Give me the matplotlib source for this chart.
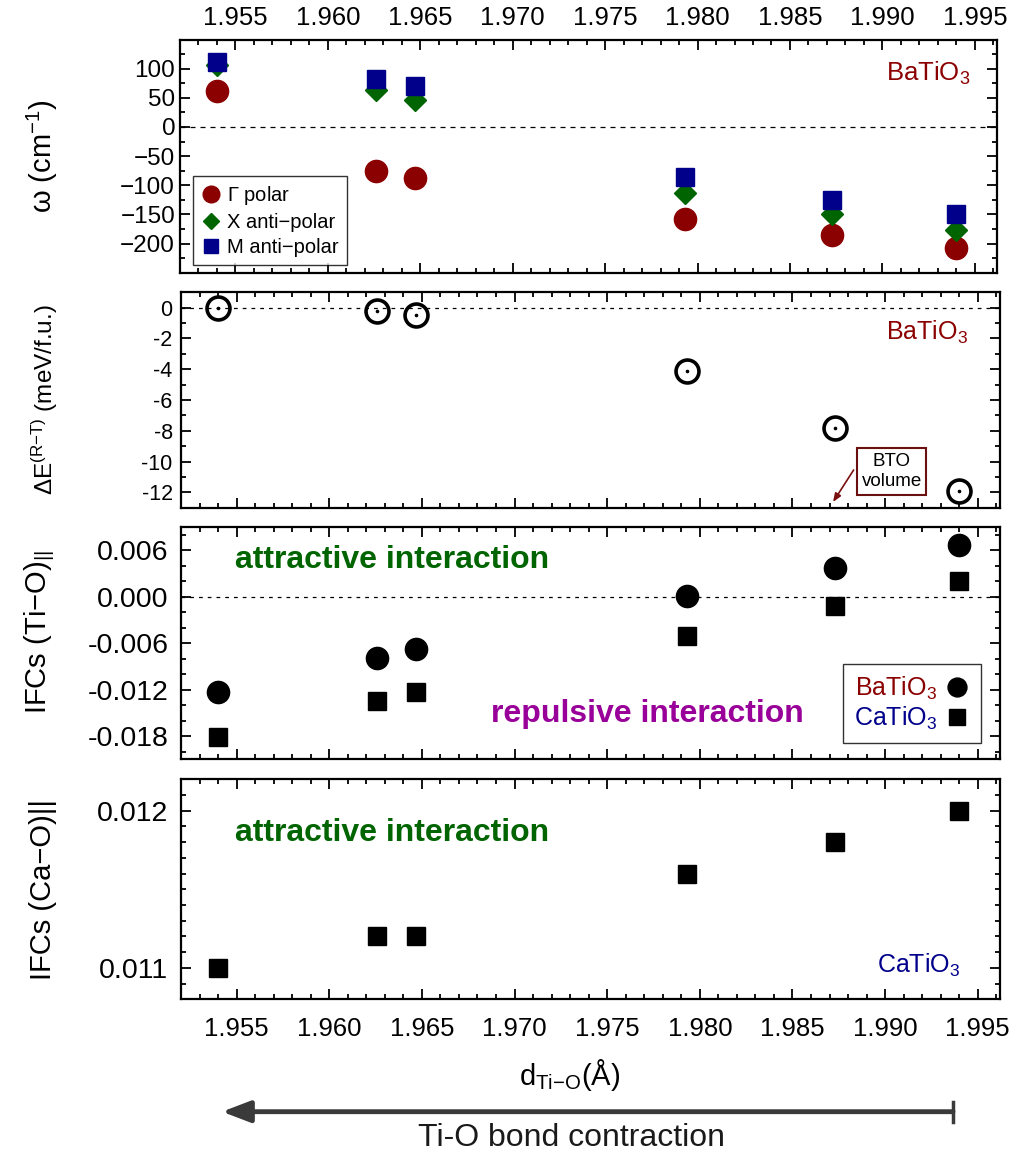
import numpy as np
import matplotlib
matplotlib.use("Agg")
import matplotlib.pyplot as plt
from matplotlib.ticker import MultipleLocator, FormatStrFormatter, FuncFormatter
from matplotlib.lines import Line2D
from matplotlib.patches import FancyArrowPatch

plt.rcParams["font.family"] = ["Liberation Sans", "DejaVu Sans"]
plt.rcParams["mathtext.fontset"] = "custom"
plt.rcParams["mathtext.rm"] = "Liberation Sans"
plt.rcParams["mathtext.it"] = "Liberation Sans:italic"
plt.rcParams["axes.unicode_minus"] = True

# Ti-O bond length (A) for the six strained cells
d_tio = np.array([1.9540, 1.9626, 1.9647, 1.9793, 1.9873, 1.9940])

# BaTiO3 soft-mode frequencies (cm^-1)
w_gamma = np.array([62, -75, -88, -158, -185, -207])
w_x     = np.array([106, 64, 46, -114, -149, -176])
w_m     = np.array([112, 82, 71, -86, -125, -150])

# BaTiO3 energy difference R - T (meV/f.u.)
dE_rt = np.array([0.0, -0.24, -0.48, -4.1, -7.8, -11.9])

# Ti-O longitudinal IFCs
ifc_tio_bto = np.array([-0.0123, -0.0079, -0.0068, 0.0001, 0.0037, 0.0067])
ifc_tio_cto = np.array([-0.0181, -0.0135, -0.0123, -0.0050, -0.0012, 0.0020])

# Ca-O longitudinal IFCs (CaTiO3)
ifc_cao_cto = np.array([0.0110, 0.0112, 0.0112, 0.0116, 0.0118, 0.0120])

RED   = "#8b0000"
GREEN = "#006400"
BLUE  = "#00008b"
PURP  = "#990099"

W, H = 1028, 1152
fig = plt.figure(figsize=(W / 100, H / 100), dpi=100)


def rect(left, right, top, bottom):
    return [left / W, 1 - bottom / H, (right - left) / W, (bottom - top) / H]


ax1 = fig.add_axes(rect(180, 997, 39.5, 272.7))
ax2 = fig.add_axes(rect(181, 1000, 292.3, 507.7))
ax3 = fig.add_axes(rect(181, 1000, 527.3, 759.3))
ax4 = fig.add_axes(rect(181, 1000, 779.3, 999.3))

XLIM = (1.952, 1.9962)
for ax in (ax1, ax2, ax3, ax4):
    ax.set_xlim(*XLIM)
    ax.xaxis.set_major_locator(MultipleLocator(0.005))
    ax.xaxis.set_minor_locator(MultipleLocator(0.001))
    ax.tick_params(which="both", direction="in", top=True, right=True,
                   width=1.3, labelsize=18)
    ax.tick_params(which="major", length=7)
    ax.tick_params(which="minor", length=3.5)
    for s in ax.spines.values():
        s.set_linewidth(1.6)
    ax.tick_params(axis="x", labelbottom=False)

# --- panel 1: phonon frequencies
ax1.axhline(0, color="black", lw=0.9, ls=(0, (4, 4)))
ax1.plot(d_tio, w_gamma, "o", color=RED, ms=16, mec=RED, label=r"$\Gamma$ polar")
ax1.plot(d_tio, w_x, "D", color=GREEN, ms=11.5, mec=GREEN, label="X anti\u2212polar")
ax1.plot(d_tio, w_m, "s", color=BLUE, ms=12.5, mec=BLUE, label="M anti\u2212polar")
ax1.set_ylim(-250, 150)
ax1.yaxis.set_minor_locator(MultipleLocator(25))
ax1.set_yticks([-200, -150, -100, -50, 0, 50, 100])
ax1.tick_params(axis="x", labeltop=True, labelsize=18.5, pad=7)
ax1.tick_params(axis="y", labelsize=17.5)
ax1.xaxis.set_major_formatter(FormatStrFormatter("%.3f"))
ax1.set_ylabel(r"ω (cm$^{-1}$)", fontsize=21)
ax1.yaxis.set_label_coords(-0.147, 0.5)
ax1.text(0.968, 0.823, r"BaTiO$_3$", color=RED, fontsize=18.5,
         ha="right", va="baseline", transform=ax1.transAxes)
leg1 = ax1.legend(loc="upper left", bbox_to_anchor=(0.016, 0.415), borderaxespad=0,
                  fontsize=14.5, frameon=True, fancybox=False, edgecolor="black",
                  handletextpad=0.3, handlelength=1.0, labelspacing=0.3,
                  borderpad=0.4, markerscale=0.75)
leg1.get_frame().set_linewidth(1.0)

# --- panel 2: energy difference
ax2.axhline(0, color="black", lw=0.9, ls=(0, (3, 4)))
ax2.plot(d_tio, dE_rt, "o", mfc="none", mec="black", mew=2.6, ms=16.5)
ax2.plot(d_tio, dE_rt, "o", color="black", ms=1.6)
ax2.set_ylim(-13, 1)
ax2.yaxis.set_major_locator(MultipleLocator(2))
ax2.yaxis.set_minor_locator(MultipleLocator(1))
ax2.yaxis.set_major_formatter(FuncFormatter(lambda v, p: f"{v:.0f}".replace("\u2212", "-")))
ax2.tick_params(axis="y", labelsize=15.5, pad=6)
ax2.set_ylabel(r"ΔE$^{\mathrm{(R{-}T)}}$ (meV/f.u.)", fontsize=17.5)
ax2.yaxis.set_label_coords(-0.148, 0.5)
ax2.text(0.961, 0.778, r"BaTiO$_3$", color=RED, fontsize=18,
         ha="right", va="baseline", transform=ax2.transAxes)
ax2.text(1.99035, -10.65, "BTO\nvolume", fontsize=13.5, ha="center", va="center",
         linespacing=1.25,
         bbox=dict(boxstyle="square,pad=0.25", fc="white", ec="#6b1010", lw=1.5))
ax2.annotate("", xy=(1.98719, -12.63), xytext=(1.98830, -10.55),
             arrowprops=dict(arrowstyle="-|>,head_length=0.5,head_width=0.2",
                             color="#7a0f0f", lw=1.2, shrinkA=0, shrinkB=0))

# --- panel 3: Ti-O IFCs
ax3.axhline(0, color="black", lw=0.9, ls=(0, (3, 4)))
ax3.plot(d_tio, ifc_tio_bto, "o", color="black", ms=16, label=r"BaTiO$_3$")
ax3.plot(d_tio, ifc_tio_cto, "s", color="black", ms=13, label=r"CaTiO$_3$")
ax3.set_ylim(-0.021, 0.009)
ax3.yaxis.set_major_locator(MultipleLocator(0.006))
ax3.yaxis.set_minor_locator(MultipleLocator(0.002))
ax3.yaxis.set_major_formatter(FormatStrFormatter("%.3f"))
ax3.tick_params(axis="y", labelsize=20.5, pad=9)
ax3.set_ylabel("IFCs (Ti\u2212O)$_{||}$", fontsize=21)
ax3.yaxis.set_label_coords(-0.151, 0.55)
ax3.text(0.258, 0.859, "attractive interaction", color=GREEN, fontsize=23,
         fontweight="bold", ha="center", va="center", transform=ax3.transAxes)
ax3.text(0.569, 0.195, "repulsive interaction", color=PURP, fontsize=23,
         fontweight="bold", ha="center", va="center", transform=ax3.transAxes)
leg3 = ax3.legend(loc="lower right", bbox_to_anchor=(0.977, 0.07), borderaxespad=0,
                  fontsize=18, frameon=True, fancybox=False, edgecolor="black",
                  markerfirst=False, handletextpad=0.3, handlelength=1.0,
                  labelspacing=0.1, borderpad=0.45, markerscale=0.85)
leg3.get_frame().set_linewidth(1.0)
for t, c in zip(leg3.get_texts(), (RED, BLUE)):
    t.set_color(c)

# --- panel 4: Ca-O IFCs
ax4.plot(d_tio, ifc_cao_cto, "s", color="black", ms=13)
ax4.set_ylim(0.0108, 0.0122)
ax4.yaxis.set_major_locator(MultipleLocator(0.001))
ax4.yaxis.set_minor_locator(MultipleLocator(0.0001))
ax4.yaxis.set_major_formatter(FormatStrFormatter("%.3f"))
ax4.tick_params(axis="y", labelsize=20.5, pad=9)
ax4.tick_params(axis="x", labelbottom=True, labelsize=18.5, pad=13)
ax4.xaxis.set_major_formatter(FormatStrFormatter("%.3f"))
ax4.set_ylabel("IFCs (Ca\u2212O)||", fontsize=21)
ax4.yaxis.set_label_coords(-0.151, 0.5)
ax4.set_xlabel(r"d$_{\mathrm{Ti{-}O}}$(Å)", fontsize=21)
ax4.xaxis.set_label_coords(0.475, -0.262)
ax4.text(0.258, 0.756, "attractive interaction", color=GREEN, fontsize=23,
         fontweight="bold", ha="center", va="center", transform=ax4.transAxes)
ax4.text(0.951, 0.12, r"CaTiO$_3$", color=BLUE, fontsize=18,
         ha="right", va="baseline", transform=ax4.transAxes)

# bond-contraction arrow under the x axis
y_arr = 1 - 1111.7 / H
fig.add_artist(FancyArrowPatch(
    (953 / W, y_arr), (222 / W, y_arr), transform=fig.transFigure,
    arrowstyle="-|>,head_length=1.7,head_width=0.65", mutation_scale=10,
    color="#3a3a3a", lw=3.5, shrinkA=0, shrinkB=0))
fig.add_artist(Line2D([953 / W, 953 / W], [1 - 1101.5 / H, 1 - 1122 / H],
                      transform=fig.transFigure, color="#3a3a3a", lw=2.5))
fig.text(572 / W, 1 - 1138 / H, "Ti-O bond contraction", fontsize=23,
         ha="center", va="center", color="#1a1a1a")

fig.savefig("out.png", dpi=100)
